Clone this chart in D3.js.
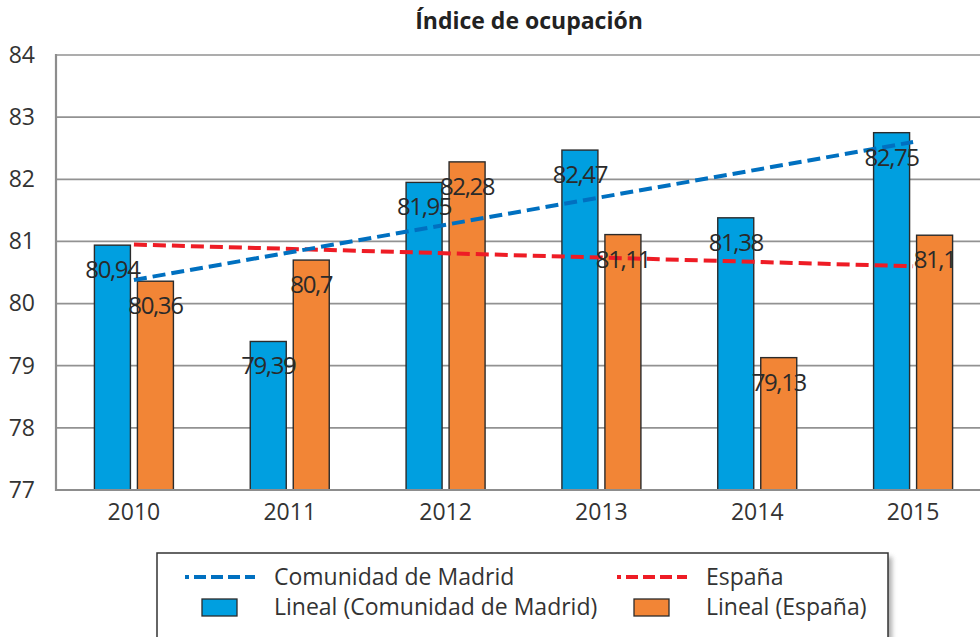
<!DOCTYPE html>
<html><head><meta charset="utf-8">
<script src="https://cdnjs.cloudflare.com/ajax/libs/d3/7.8.5/d3.min.js"></script>
<style>
html,body{margin:0;padding:0;background:#fff;}
svg{display:block;font-family:"Open Sans",sans-serif;}
</style></head>
<body><svg id="c" width="980" height="637"></svg>
<script>
const title = "Índice de ocupación";
const years = ["2010","2011","2012","2013","2014","2015"];
const madrid = [80.94, 79.39, 81.95, 82.47, 81.38, 82.75];
const espana = [80.36, 80.70, 82.28, 81.11, 79.13, 81.10];
const madridTrend = [80.38, 82.60];   // trend line endpoints (2010, 2015)
const espanaTrend = [80.95, 80.60];
const yTicks = [77, 78, 79, 80, 81, 82, 83, 84];
const legendItems = [
  {label: "Comunidad de Madrid", type: "line", color: "#0070c0"},
  {label: "España", type: "line", color: "#ee1c25"},
  {label: "Lineal (Comunidad de Madrid)", type: "rect", color: "#009fe0"},
  {label: "Lineal (España)", type: "rect", color: "#f28536"}
];

(function(){
const fmt = v => String(+v.toFixed(2)).replace(".", ",");
const svg = d3.select("#c");
const pL = 56, pR = 991, pT = 55, pB = 490;

const x = d3.scaleBand().domain(years).range([pL, pR]).paddingInner(0).paddingOuter(0);
const y = d3.scaleLinear().domain([77, 84]).range([pB, pT]);
const barW = 36, gap = 7;

// gridlines
svg.append("g").selectAll("line").data(yTicks.slice(1)).join("line")
  .attr("x1", pL).attr("x2", 980)
  .attr("y1", d => y(d)).attr("y2", d => y(d))
  .attr("stroke", "#929292").attr("stroke-width", 1.7);

// y axis
const yAxis = svg.append("g").attr("transform", `translate(${pL},0)`)
  .call(d3.axisLeft(y).tickValues(yTicks).tickSize(0).tickPadding(21).tickFormat(d3.format("d")));
yAxis.select(".domain").remove();
yAxis.selectAll("text").attr("font-size", 23).attr("fill", "#333").attr("font-family", "Open Sans");

// bars
const g = svg.append("g");
g.selectAll("rect.m").data(madrid).join("rect").attr("class","m")
  .attr("x", (d,i) => x(years[i]) + x.bandwidth()/2 - gap/2 - barW)
  .attr("y", d => y(d)).attr("width", barW).attr("height", d => y(77) - y(d))
  .attr("fill", "#009fe0").attr("stroke", "#2b2b2b").attr("stroke-width", 1.4);
g.selectAll("rect.e").data(espana).join("rect").attr("class","e")
  .attr("x", (d,i) => x(years[i]) + x.bandwidth()/2 + gap/2)
  .attr("y", d => y(d)).attr("width", barW).attr("height", d => y(77) - y(d))
  .attr("fill", "#f28536").attr("stroke", "#2b2b2b").attr("stroke-width", 1.4);

// axes lines
svg.append("line").attr("x1", pL).attr("x2", pL).attr("y1", pT - 1).attr("y2", pB + 1)
  .attr("stroke", "#8d8d8d").attr("stroke-width", 2.2);
svg.append("line").attr("x1", pL).attr("x2", 980).attr("y1", pB).attr("y2", pB)
  .attr("stroke", "#8d8d8d").attr("stroke-width", 2.2);

// x axis labels
const xAxis = svg.append("g").attr("transform", `translate(0,${pB})`)
  .call(d3.axisBottom(x).tickSize(0).tickPadding(14));
xAxis.select(".domain").remove();
xAxis.selectAll("text").attr("font-size", 23).attr("fill", "#333").attr("font-family", "Open Sans");

// trend lines
const cx = i => x(years[i]) + x.bandwidth()/2;
const line = d3.line().x(d => d[0]).y(d => d[1]);
svg.append("path").attr("d", line([[cx(0), y(espanaTrend[0])], [cx(5), y(espanaTrend[1])]]))
  .attr("stroke", "#ee1c25").attr("stroke-width", 4).attr("stroke-dasharray", "13,6").attr("fill", "none");
svg.append("path").attr("d", line([[cx(0), y(madridTrend[0])], [cx(5), y(madridTrend[1])]]))
  .attr("stroke", "#0070c0").attr("stroke-width", 4).attr("stroke-dasharray", "13,6").attr("fill", "none");

// data labels
const lbl = svg.append("g").attr("font-size", 24).attr("fill", "#2a2a2a").attr("text-anchor", "middle")
  .attr("letter-spacing", "-1.4px");
lbl.selectAll("text.m").data(madrid).join("text").attr("class","m")
  .attr("x", (d,i) => x(years[i]) + x.bandwidth()/2 - gap/2 - barW/2)
  .attr("y", d => y(d) + 33).text(fmt);
lbl.selectAll("text.e").data(espana).join("text").attr("class","e")
  .attr("x", (d,i) => x(years[i]) + x.bandwidth()/2 + gap/2 + barW/2)
  .attr("y", d => y(d) + 33).text(fmt);

// title
svg.append("text").attr("x", 529).attr("y", 29).attr("text-anchor", "middle")
  .attr("font-size", 23).attr("font-weight", "bold").attr("fill", "#222").text(title);

// legend
const defs = svg.append("defs");
const f = defs.append("filter").attr("id", "sh").attr("x", "-10%").attr("y", "-10%").attr("width", "130%").attr("height", "130%");
f.append("feGaussianBlur").attr("stdDeviation", 2.5);
svg.append("rect").attr("x", 161).attr("y", 557).attr("width", 731).attr("height", 120)
  .attr("fill", "#777").attr("opacity", 0.6).attr("filter", "url(#sh)");
svg.append("rect").attr("x", 157).attr("y", 553).attr("width", 731).attr("height", 120)
  .attr("fill", "#fff").attr("stroke", "#333").attr("stroke-width", 1.5);

const lg = svg.append("g");
const colX = [185, 617], rowY = [577, 607], textX = [274, 706];
legendItems.forEach((it, i) => {
  const c = i % 2, r = Math.floor(i / 2);
  if (it.type === "line") {
    lg.append("line").attr("x1", colX[c]).attr("x2", colX[c] + 70).attr("y1", rowY[r]).attr("y2", rowY[r])
      .attr("stroke", it.color).attr("stroke-width", 4).attr("stroke-dasharray", "4,5,12,5,12,5,12,5,12");
  } else {
    lg.append("rect").attr("x", colX[c] + 17).attr("y", rowY[r] - 8).attr("width", 35).attr("height", 17)
      .attr("fill", it.color).attr("stroke", "#2b2b2b").attr("stroke-width", 1.3);
  }
  lg.append("text").attr("x", textX[c]).attr("y", rowY[r] + 8).attr("font-size", 23).attr("fill", "#333")
    .text(it.label);
});
})();
</script></body></html>
